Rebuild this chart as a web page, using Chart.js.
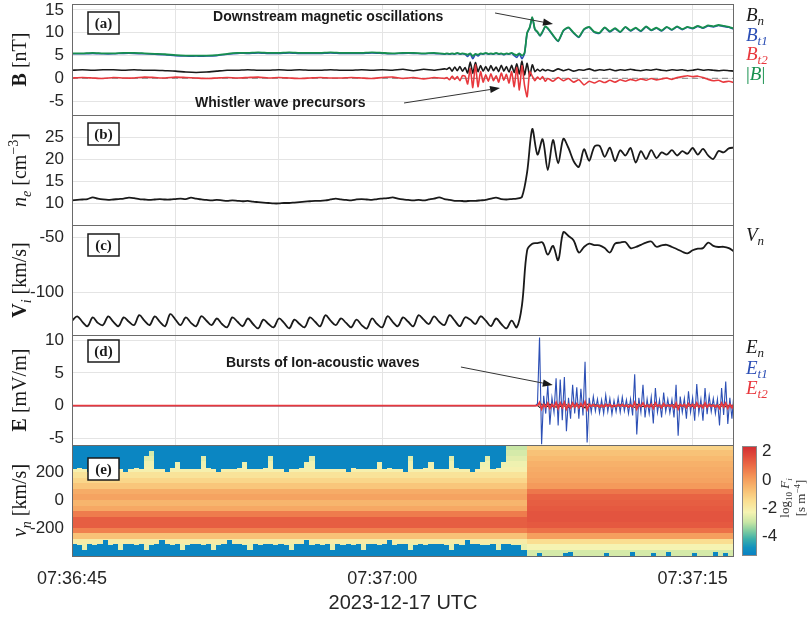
<!DOCTYPE html>
<html lang="en">
<head>
<meta charset="utf-8">
<title>Shock crossing 2023-12-17</title>
<script src="https://cdn.jsdelivr.net/npm/chart.js@4.4.1/dist/chart.umd.min.js"></script>
<style>
  html, body { margin: 0; padding: 0; background: #ffffff; }
  #figure { position: relative; width: 809px; height: 619px; overflow: hidden; }
  #figure canvas { position: absolute; left: 0; top: 0; }
</style>
</head>
<body>
<div id="figure">
  <canvas id="specChart" width="809" height="619"></canvas>
  <canvas id="cbarChart" width="809" height="619"></canvas>
  <canvas id="bChart" width="809" height="619"></canvas>
  <canvas id="neChart" width="809" height="619"></canvas>
  <canvas id="viChart" width="809" height="619"></canvas>
  <canvas id="eChart" width="809" height="619"></canvas>
</div>
<script>
// ================= Data =================
// time axis: seconds after 07:36:45 UTC
const timeOrigin = '07:36:45';
const tMin = 0, tMax = 32;
const timeTicks = [0, 5, 10, 15, 20, 25, 30];
const timeLabelEvery = 15;

// sample grid helper (times only, values are typed below)
const sampleTimes = (from, to, dt) => {
    const n = Math.round((to - from) / dt);
    return Array.from({ length: n + 1 }, (_, i) => +(from + i * dt).toFixed(3));
};

// (a) magnetic field [nT]
const bTime = [...sampleTimes(0, 18, 0.5), ...sampleTimes(18.125, 23, 0.125), ...sampleTimes(23.25, 32, 0.25)];
const bN = [
    1.8,1.9,1.8,1.9,1.9,1.8,1.9,1.8,1.8,1.7,1.6,1.4,1.3,1.4,1.6,1.8,1.8,1.9,1.8,1.8,1.9,1.8,1.9,1.8,1.8,1.9,1.8,1.8,1.9,1.8,1.9,1.8,2.0,1.7,2.0,1.8,2.1,
    2.0,2.4,1.6,2.5,1.7,2.6,1.6,2.4,1.2,3.6,1.1,3.5,1.5,2.8,1.6,2.6,1.6,2.8,1.7,2.5,1.5,2.9,1.6,2.6,1.4,2.9,1.3,3.2,1.0,3.8,0.8,3.3,0.5,3.0,1.5,2.0,1.6,2.0,1.7,1.9,
    1.6,2.1,1.7,2.0,1.6,1.9,1.8,2.1,1.7,1.9,1.8,2.0,1.7,1.9,1.8,2.0,1.8,1.7,1.9,1.8,2.0,1.8,1.7,1.9,1.8,1.9,1.7,1.8,2.0,1.8,1.9,1.8,1.7,1.8,1.7,1.6
];
const bT1 = [
    5.4,5.4,5.5,5.4,5.4,5.5,5.5,5.4,5.3,5.2,5.0,4.9,4.9,4.9,5.0,5.3,5.5,5.5,5.6,5.5,5.5,5.6,5.5,5.5,5.5,5.6,5.5,5.5,5.5,5.6,5.5,5.4,5.5,5.5,5.4,5.5,5.3,
    5.4,5.3,5.4,5.3,5.5,5.3,5.4,5.3,4.8,5.4,4.3,5.3,4.9,5.4,5.3,5.5,5.3,5.4,5.3,5.5,5.3,5.4,5.2,5.4,5.3,5.5,5.0,4.6,5.4,4.3,5.5,9.9,11.1,13.3,10.7,10.1,9.3,10.2,11.3,10.9,
    9.4,8.1,10.4,11.1,9.9,9.0,10.7,11.2,10.1,9.9,11.1,10.2,10.9,10.1,11.2,10.4,11.0,10.3,11.3,10.5,11.0,10.4,11.2,10.6,11.3,10.7,11.2,10.9,11.4,11.0,11.5,11.3,11.6,11.4,11.2,10.8
];
const bT2 = [
    0.1,0.2,0.1,0.0,0.2,0.1,0.1,0.3,0.2,0.1,0.3,0.2,0.1,0.0,0.1,0.2,0.1,0.2,0.3,0.1,0.2,0.1,0.0,0.1,0.2,0.1,0.1,0.2,0.1,0.0,0.2,0.3,0.0,0.2,-0.1,0.2,0.0,
    0.2,-0.3,0.5,-0.2,0.4,-0.5,0.6,0.5,-1.2,2.2,-2.0,3.0,-1.8,1.5,-0.8,0.8,-0.6,1.0,-0.5,0.6,-0.8,1.2,-0.4,0.9,-1.0,1.5,-1.8,2.4,-2.5,2.8,-1.5,-4.0,1.5,0.5,-0.5,0.3,-0.2,0.4,-0.6,0.0,
    -0.6,0.2,-0.5,0.0,-0.8,-0.3,-1.4,-0.6,-1.0,-0.5,-0.9,-0.4,-0.8,-0.3,-0.6,-0.2,-0.5,-0.1,-0.4,0.0,-0.3,-0.1,0.1,-0.2,0.2,0.4,0.6,0.4,0.5,0.2,-0.2,-0.5,-0.4,-0.8,-0.6,-0.9
];
const bMag = [
    5.5,5.5,5.6,5.5,5.5,5.6,5.6,5.5,5.4,5.3,5.1,5.0,5.0,5.0,5.1,5.4,5.6,5.6,5.7,5.6,5.6,5.7,5.6,5.6,5.6,5.7,5.6,5.6,5.6,5.7,5.6,5.5,5.6,5.6,5.5,5.6,5.4,
    5.5,5.4,5.5,5.4,5.6,5.4,5.5,5.4,5.2,5.5,4.9,5.4,5.2,5.5,5.4,5.6,5.4,5.5,5.4,5.6,5.4,5.5,5.3,5.5,5.4,5.6,5.3,5.1,5.5,5.0,5.6,10.0,11.2,13.4,10.8,10.2,9.4,10.3,11.4,11.0,
    9.5,8.2,10.5,11.2,10.0,9.1,10.8,11.3,10.2,10.0,11.2,10.3,11.0,10.2,11.3,10.5,11.1,10.4,11.4,10.6,11.1,10.5,11.3,10.7,11.4,10.8,11.3,11.0,11.5,11.1,11.6,11.4,11.7,11.5,11.3,10.9
];
const bRange = [-8, 16.3];
const bTicks = [-5, 0, 5, 10, 15];

// (b) electron density [cm^-3], (c) ion velocity [km/s] on a 0.25 s grid
const plasmaTime = sampleTimes(0, 32, 0.25);
const ne = [
    10.6,10.7,10.8,10.9,11.3,11.0,10.8,10.7,10.8,10.9,11.0,11.2,11.1,
    10.9,10.8,10.7,10.8,10.9,10.8,10.8,10.9,11.0,10.9,11.2,11.0,
    10.8,10.7,10.6,10.7,10.6,10.5,10.6,10.5,10.4,10.5,10.3,10.2,
    10.1,10.0,9.9,9.9,10.0,10.0,10.1,10.2,10.3,10.4,10.5,10.5,
    10.6,10.8,11.0,10.8,10.7,10.6,10.8,10.9,10.8,10.7,10.9,11.0,
    11.1,11.3,11.0,10.8,10.7,10.6,10.7,10.6,10.8,11.0,11.3,10.9,
    10.7,10.5,10.5,10.4,10.5,10.5,10.6,10.7,11.0,11.2,10.9,10.8,10.9,11.0,11.4,
    17.0,
    26.8,21.0,24.5,17.5,24.3,19.0,24.6,22.5,19.5,18.2,22.2,19.6,22.8,23.0,20.5,22.6,19.5,22.0,20.8,22.5,
    19.2,21.8,20.0,22.0,20.2,21.5,21.0,22.0,20.8,21.8,21.2,22.5,21.0,22.3,20.8,20.0,21.8,21.5,22.4,22.6
];
const neRange = [5, 30];
const neTicks = [10, 15, 20, 25];

const vn = [
    -126,-122,-127,-131,-123,-128,-130,-122,-127,-131,-123,-127,-130,-121,-126,-130,-122,-127,-131,-120,-125,-130,
    -123,-128,-131,-122,-126,-130,-124,-129,-132,-123,-127,-131,-124,-129,-133,-125,-129,-132,-124,-128,-133,
    -125,-129,-132,-123,-127,-131,-121,-126,-130,-124,-128,-132,-125,-130,-133,-124,-129,-132,-122,-127,-131,
    -123,-127,-131,-121,-125,-129,-122,-127,-130,-121,-126,-131,-123,-125,-129,-122,-126,-131,-124,-129,-133,
    -126,-132,-112,
    -62,-56,-55.5,-55,-66,-58,-71,-45.5,-49,-53,-64,-59,-56,-57.3,-57.5,-60,-64,-56,-55,-54.5,
    -60,-59,-57,-55,-54,-58.8,-57.5,-57,-59,-61,-63.3,-64.8,-62,-60.5,-60,-55,-58,-59,-58.8,-60,-63
];
const viRange = [-139, -39];
const viTicks = [-100, -50];

// (d) electric field [mV/m]: quiet before the first burst, then 0.1 s samples
const eQuietTime = [0, 22.4];
const eQuiet = [0, 0];
const eTime = sampleTimes(22.5, 32, 0.1);
const eN = [
    0.1,-0.3,0.3,-0.1,0.2,-0.2,0.3,-0.2,0.1,-0.3,0.2,-0.2,0.3,-0.1,0.2,-0.3,0.1,-0.2,0.2,-0.1,
    0.2,-0.2,0.1,-0.4,0.3,-0.1,0.1,-0.1,0.2,-0.1,0.1,-0.2,0.1,-0.1,0.2,-0.1,0.1,-0.2,0.1,-0.1,
    0.2,-0.1,0.1,-0.1,0.2,-0.1,0.1,-0.3,0.3,-0.1,0.1,-0.2,0.1,-0.1,0.2,-0.2,0.2,-0.1,0.1,-0.2,
    0.1,-0.1,0.1,-0.1,0.2,-0.1,0.2,-0.3,0.1,-0.1,0.1,-0.2,0.1,-0.1,0.2,-0.2,0.2,-0.1,0.1,-0.2,
    0.2,-0.1,0.1,-0.1,0.2,-0.1,0.1,-0.2,0.2,-0.1,0.2,-0.2,0.1,-0.1,0.1,-0.2
];
const eT1 = [
    0.3,10.4,-5.9,1.5,-1.2,3.2,-2.9,1.2,-1.0,4.2,
    -3.0,4.0,-2.2,4.4,-3.9,1.2,-2.0,3.2,-1.2,2.8,
    -2.0,2.6,-1.5,6.7,-5.6,1.2,-1.0,1.4,-0.8,1.0,
    -1.1,0.9,-1.2,1.6,-0.9,1.1,-1.3,0.8,-0.9,1.2,
    -1.0,1.3,-0.8,0.9,-1.2,1.0,-1.5,4.8,-4.4,1.2,
    -1.0,3.2,-1.8,1.0,-1.2,1.3,-2.7,2.7,-1.0,0.9,
    -1.8,2.0,-0.9,1.0,-1.1,0.9,-1.8,3.2,-4.6,1.4,
    -1.0,1.1,-2.0,2.2,-1.0,1.2,-2.3,3.3,-1.1,1.0,
    -2.3,2.7,-1.3,1.5,-0.9,1.1,-1.2,1.0,-3.0,2.7,
    -1.4,3.7,-2.8,1.2,-2.0,2.0
];
const eT2 = [
    0.0,0.5,-0.5,0.2,-0.2,0.4,-0.4,0.2,-0.2,0.5,
    -0.4,0.4,-0.3,0.5,-0.5,0.2,-0.3,0.4,-0.2,0.3,
    -0.3,0.3,-0.2,0.6,-0.6,0.2,-0.1,0.2,-0.1,0.1,
    -0.2,0.1,-0.2,0.2,-0.1,0.2,-0.2,0.1,-0.1,0.2,
    -0.1,0.2,-0.1,0.1,-0.2,0.1,-0.2,0.5,-0.5,0.2,
    -0.1,0.4,-0.2,0.1,-0.2,0.2,-0.4,0.4,-0.1,0.1,
    -0.3,0.3,-0.1,0.1,-0.1,0.1,-0.3,0.4,-0.5,0.2,
    -0.1,0.2,-0.3,0.3,-0.1,0.2,-0.3,0.4,-0.2,0.1,
    -0.3,0.4,-0.2,0.2,-0.1,0.1,-0.2,0.1,-0.4,0.4,
    -0.2,0.4,-0.4,0.2,-0.3,0.3
];
const eRange = [-6, 10.8];
const eTicks = [-5, 0, 5, 10];

// (e) ion distribution log10 F_i vs v_n: 0.25 s columns, 40 km/s rows (top to bottom)
const specStep = 0.25;
const specCols = 128;
const specShock = 22.0;
const specV = [380, 340, 300, 260, 220, 180, 140, 100, 60, 20, -20, -60, -100, -140, -180, -220, -260, -300, -340, -380];
const specBin = 40;
const specPre = [-3.0,-2.8,-2.6,-2.4,-2.2,-1.7,-1.3,-0.9,-0.3,-0.1,-0.5,-0.2,0.7,1.3,1.3,0.6,-0.8,-2.0,-2.5,-2.9];
const specPost = [-1.2,-0.8,-0.6,-0.4,-0.3,-0.2,-0.1,0.1,0.8,1.2,1.3,1.4,1.5,1.5,1.4,0.9,0.0,-1.5,-2.3,-2.8];
const specEmpty = -5.2;
// lowest / highest velocity with counts in each column [km/s]
const specTopEdge = [
    228,232,225,205,230,226,275,232,224,230, 205,228,234,226,320,355,230,226,205,232,
    275,228,224,230,226,320,232,228,205,226, 230,224,232,275,228,230,226,232,320,228,
    226,205,230,228,232,275,320,226,230,224, 230,228,226,205,232,228,224,230,226,275,
    228,232,226,230,205,320,228,224,232,275, 226,230,228,320,232,226,228,205,230,275,
    320,228,232,275
];
const specBottomEdge = [
    -312,-318,-355,-310,-320,-315,-285,-318,-312,-355, -316,-310,-320,-314,-355,-318,-312,-285,-316,-320,
    -314,-355,-318,-312,-316,-320,-310,-355,-318,-314, -285,-316,-312,-320,-355,-314,-318,-310,-316,-320,
    -312,-318,-355,-316,-310,-285,-320,-314,-318,-312, -355,-316,-320,-312,-318,-314,-355,-310,-316,-320,
    -314,-285,-318,-312,-316,-355,-320,-314,-318,-310, -316,-312,-320,-355,-314,-318,-285,-316,-312,-320,
    -318,-314,-355,-316,-312,-320,-318,-355,
    -400,-400,-375,-400,-400,-400,-400,-378,-372,-400, -400,-400,-400,-400,-400,-375,-400,-400,-400,-400,
    -372,-400,-400,-400,-376,-400,-400,-374,-400,-400, -400,-400,-375,-400,-400,-400,-373,-400,-376,-400
];
const vnRange = [-400, 400];
const vnTicks = [-200, 0, 200];
const cbarRange = [-5.4, 2.4];
const cbarTicks = [-4, -2, 0, 2];

// colour scale for log10 F_i
const cmapStops = [
    [-5.4, [8, 128, 196]], [-4.8, [18, 146, 190]], [-4.2, [60, 175, 170]], [-3.6, [130, 205, 160]],
    [-3.0, [200, 230, 165]], [-2.3, [245, 243, 178]], [-1.5, [250, 222, 145]], [-0.7, [248, 190, 115]],
    [0.2, [244, 150, 88]], [1.0, [235, 108, 70]], [1.8, [222, 70, 58]], [2.4, [210, 45, 50]]
];

// ================= Layout / style =================
const W = 809, H = 619;
const plotLeft = 72, plotRight = 734;
const panelBox = {
    a: { top: 4, bottom: 115 },
    b: { top: 115, bottom: 225 },
    c: { top: 225, bottom: 335 },
    d: { top: 335, bottom: 445 },
    e: { top: 445, bottom: 556 }
};
const SANS = '"Liberation Sans", Arial, Helvetica, sans-serif';
const SERIF = '"Liberation Serif", "DejaVu Serif", "Times New Roman", serif';
const gridColor = '#e4e4e4';
const tickColor = '#262626';
const C = { black: '#1a1a1a', blue: '#2c4fb5', red: '#e8383d', green: '#17904e', dash: '#9a9a9a' };

Chart.defaults.font.family = SANS;

const toPoints = (xs, ys) => ys.map((y, i) => ({ x: xs[i], y }));

const clock = t => {
    const [h, m, s] = timeOrigin.split(':').map(Number);
    const tot = h * 3600 + m * 60 + s + t;
    const pad = n => String(n).padStart(2, '0');
    return `${pad(Math.floor(tot / 3600))}:${pad(Math.floor((tot % 3600) / 60))}:${pad(tot % 60)}`;
};

const colorFor = v => {
    if (v <= cmapStops[0][0]) return `rgb(${cmapStops[0][1].join(',')})`;
    for (let i = 1; i < cmapStops.length; i++) {
        const [v1, c1] = cmapStops[i];
        if (v <= v1) {
            const [v0, c0] = cmapStops[i - 1];
            const f = (v - v0) / (v1 - v0);
            const c = c0.map((ch, k) => Math.round(ch + (c1[k] - ch) * f));
            return `rgb(${c.join(',')})`;
        }
    }
    return `rgb(${cmapStops[cmapStops.length - 1][1].join(',')})`;
};

// scales keep their half-label padding otherwise, which would push panel (a) down
const noScalePadding = s => {
    s.paddingTop = 0;
    s.paddingBottom = 0;
    s.paddingLeft = 0;
    s.paddingRight = 0;
};

// --- text with sub/superscripts; parts = [{t, f, dy}] ---
const drawRich = (ctx, parts, x, y, rotated, color, base) => {
    ctx.save();
    ctx.translate(x, y);
    if (rotated) ctx.rotate(-Math.PI / 2);
    ctx.fillStyle = color || C.black;
    ctx.textBaseline = 'alphabetic';
    ctx.textAlign = 'left';
    let w = 0;
    parts.forEach(p => { ctx.font = p.f; w += ctx.measureText(p.t).width; });
    let cx = rotated ? -w / 2 : 0;
    parts.forEach(p => {
        ctx.font = p.f;
        ctx.fillText(p.t, cx, base + (p.dy || 0));
        cx += ctx.measureText(p.t).width;
    });
    ctx.restore();
};

const drawArrow = (ctx, x0, y0, x1, y1) => {
    const ang = Math.atan2(y1 - y0, x1 - x0);
    const len = 10, half = 3.6;
    ctx.strokeStyle = '#333';
    ctx.fillStyle = '#1a1a1a';
    ctx.lineWidth = 1;
    ctx.beginPath();
    ctx.moveTo(x0, y0);
    ctx.lineTo(x1 - len * Math.cos(ang), y1 - len * Math.sin(ang));
    ctx.stroke();
    ctx.beginPath();
    ctx.moveTo(x1, y1);
    ctx.lineTo(x1 - len * Math.cos(ang) + half * Math.sin(ang), y1 - len * Math.sin(ang) - half * Math.cos(ang));
    ctx.lineTo(x1 - len * Math.cos(ang) - half * Math.sin(ang), y1 - len * Math.sin(ang) + half * Math.cos(ang));
    ctx.closePath();
    ctx.fill();
};

// --- frame, panel tag, axis title, line labels and notes ---
const panelDeco = {
    id: 'panelDeco',
    afterDraw(chart, args, opts) {
        const { ctx, chartArea: a, scales } = chart;
        ctx.save();
        ctx.strokeStyle = '#6a6a6a';
        ctx.lineWidth = 1;
        ctx.strokeRect(a.left + 0.5, a.top + 0.5, a.right - a.left - 1, a.bottom - a.top);

        if (opts.tag) {
            const bx = a.left + 16, by = a.top + opts.tagDy;
            ctx.fillStyle = '#fff';
            ctx.fillRect(bx, by, 31, 22);
            ctx.strokeStyle = '#1a1a1a';
            ctx.lineWidth = 1.5;
            ctx.strokeRect(bx, by, 31, 22);
            ctx.fillStyle = C.black;
            ctx.font = `bold 15px ${SERIF}`;
            ctx.textAlign = 'center';
            ctx.textBaseline = 'middle';
            ctx.fillText(opts.tag, bx + 15.5, by + 12);
        }
        if (opts.yTitle) drawRich(ctx, opts.yTitle, 19, (a.top + a.bottom) / 2, true, C.black, 7);
        (opts.labels || []).forEach(l => drawRich(ctx, l.parts, 746, a.top + l.dy, false, l.color, 6));
        (opts.notes || []).forEach(n => {
            const x = scales.x, y = scales.y;
            ctx.fillStyle = C.black;
            ctx.font = `bold 14px ${SANS}`;
            ctx.textAlign = 'left';
            ctx.textBaseline = 'middle';
            ctx.fillText(n.text, x.getPixelForValue(n.at[0]), y.getPixelForValue(n.at[1]));
            drawArrow(ctx, x.getPixelForValue(n.from[0]), y.getPixelForValue(n.from[1]),
                x.getPixelForValue(n.to[0]), y.getPixelForValue(n.to[1]));
        });
        if (opts.xTitle) {
            ctx.fillStyle = tickColor;
            ctx.font = `20px ${SANS}`;
            ctx.textAlign = 'center';
            ctx.textBaseline = 'middle';
            ctx.fillText(opts.xTitle, (a.left + a.right) / 2, 603);
        }
        ctx.restore();
    }
};

// --- spectrogram cells, then the empty (no counts) ends of each column ---
const spectrogramLayer = {
    id: 'spectrogramLayer',
    beforeDatasetsDraw(chart) {
        const { ctx, chartArea: a, scales: { x, y } } = chart;
        ctx.save();
        ctx.beginPath();
        ctx.rect(a.left, a.top, a.right - a.left, a.bottom - a.top);
        ctx.clip();
        const emptyColor = colorFor(specEmpty);
        for (let c = 0; c < specCols; c++) {
            const t0 = c * specStep;
            const profile = t0 >= specShock ? specPost : specPre;
            const x0 = Math.floor(x.getPixelForValue(t0));
            const x1 = Math.ceil(x.getPixelForValue(t0 + specStep));
            specV.forEach((v, r) => {
                const y0 = Math.floor(y.getPixelForValue(v + specBin / 2));
                const y1 = Math.ceil(y.getPixelForValue(v - specBin / 2));
                ctx.fillStyle = colorFor(profile[r]);
                ctx.fillRect(x0, y0, x1 - x0, y1 - y0);
            });
            ctx.fillStyle = emptyColor;
            if (specTopEdge[c] !== undefined) {
                const ye = Math.round(y.getPixelForValue(specTopEdge[c]));
                ctx.fillRect(x0, a.top, x1 - x0, ye - a.top);
            }
            if (specBottomEdge[c] !== undefined && specBottomEdge[c] > vnRange[0]) {
                const ye = Math.round(y.getPixelForValue(specBottomEdge[c]));
                ctx.fillRect(x0, ye, x1 - x0, a.bottom - ye);
            }
        }
        ctx.restore();
    }
};

const colorbarLayer = {
    id: 'colorbarLayer',
    beforeDatasetsDraw(chart) {
        const { ctx, chartArea: a, scales: { y } } = chart;
        ctx.save();
        for (let py = Math.floor(a.top); py < a.bottom; py++) {
            ctx.fillStyle = colorFor(y.getValueForPixel(py + 0.5));
            ctx.fillRect(a.left, py, a.right - a.left, 1);
        }
        ctx.strokeStyle = '#8a8a8a';
        ctx.lineWidth = 1;
        ctx.strokeRect(a.left + 0.5, a.top + 0.5, a.right - a.left - 1, a.bottom - a.top - 1);
        const s13 = `13px ${SERIF}`, s9 = `9px ${SERIF}`;
        drawRich(ctx, [
            { t: 'log', f: s13 }, { t: '10', f: s9, dy: 3 }, { t: ' F', f: `italic ${s13}` }, { t: 'i', f: `italic ${s9}`, dy: 3 }
        ], 785, (a.top + a.bottom) / 2 - 3, true, '#333', 4);
        drawRich(ctx, [
            { t: '[s m', f: s13 }, { t: '\u22124', f: s9, dy: -5 }, { t: ']', f: s13 }
        ], 801, (a.top + a.bottom) / 2 - 3, true, '#333', 4);
        ctx.restore();
    }
};

// ================= Chart setup =================
document.addEventListener('DOMContentLoaded', () => {

    const makePanel = (id, box, range, ticks, datasets, deco, withTimeLabels, extraPlugins) => {
        const xHeight = withTimeLabels ? H - box.bottom : 0;
        return new Chart(document.getElementById(id).getContext('2d'), {
            type: 'line',
            data: { datasets },
            options: {
                responsive: false,
                animation: false,
                devicePixelRatio: 1,
                layout: {
                    autoPadding: false,
                    padding: { left: 0, right: W - plotRight, top: box.top, bottom: H - box.bottom - xHeight }
                },
                plugins: { legend: { display: false }, tooltip: { enabled: false }, panelDeco: deco },
                scales: {
                    x: {
                        type: 'linear',
                        min: tMin,
                        max: tMax,
                        afterBuildTicks: s => { s.ticks = timeTicks.map(v => ({ value: v })); },
                        afterFit: s => { s.height = xHeight; noScalePadding(s); },
                        grid: { color: gridColor, drawTicks: false },
                        border: { display: false },
                        ticks: {
                            display: withTimeLabels,
                            autoSkip: false,
                            maxRotation: 0,
                            padding: 12,
                            color: tickColor,
                            font: { size: 18 },
                            callback: v => (v % timeLabelEvery === 0 ? clock(v) : '')
                        }
                    },
                    y: {
                        min: range[0],
                        max: range[1],
                        afterBuildTicks: s => { s.ticks = ticks.map(v => ({ value: v })); },
                        afterFit: s => { s.width = plotLeft; noScalePadding(s); },
                        grid: { color: gridColor, drawTicks: false },
                        border: { display: false },
                        ticks: { padding: 8, color: tickColor, font: { size: 17 } }
                    }
                }
            },
            plugins: [panelDeco, ...(extraPlugins || [])]
        });
    };

    const line = (xs, ys, color, width, tension) => ({
        data: toPoints(xs, ys),
        borderColor: color,
        borderWidth: width,
        pointRadius: 0,
        tension: tension,
        fill: false
    });

    const S = (size, style) => `${style || ''} ${size}px ${SERIF}`.trim();

    // 1. magnetic field
    makePanel('bChart', panelBox.a, bRange, bTicks, [
        line(bTime, bMag, C.green, 1.8, 0.2),
        line(bTime, bT2, C.red, 1.6, 0.2),
        line(bTime, bT1, C.blue, 1.6, 0.2),
        line(bTime, bN, C.black, 1.6, 0.2),
        Object.assign(line([tMin, tMax], [0, 0], C.dash, 1.2, 0), { borderDash: [6, 4] })
    ], {
        tag: '(a)', tagDy: 8,
        yTitle: [{ t: 'B', f: S(20, 'bold') }, { t: ' [nT]', f: S(20) }],
        labels: [
            { dy: 11, color: C.black, parts: [{ t: 'B', f: S(19, 'italic') }, { t: 'n', f: S(13, 'italic'), dy: 4 }] },
            { dy: 31, color: C.blue, parts: [{ t: 'B', f: S(19, 'italic') }, { t: 't1', f: S(13, 'italic'), dy: 4 }] },
            { dy: 50, color: C.red, parts: [{ t: 'B', f: S(19, 'italic') }, { t: 't2', f: S(13, 'italic'), dy: 4 }] },
            { dy: 70, color: C.green, parts: [{ t: '|', f: S(19) }, { t: 'B', f: S(19, 'italic') }, { t: '|', f: S(19) }] }
        ],
        notes: [
            { text: 'Downstream magnetic oscillations', at: [6.82, 13.45], from: [20.45, 14.33], to: [23.25, 11.92] },
            { text: 'Whistler wave precursors', at: [5.95, -5.37], from: [16.05, -5.37], to: [20.69, -2.09] }
        ]
    }, false);

    // 2. electron density
    makePanel('neChart', panelBox.b, neRange, neTicks, [
        line(plasmaTime, ne, C.black, 1.8, 0.3)
    ], {
        tag: '(b)', tagDy: 8,
        yTitle: [
            { t: 'n', f: S(20, 'italic') }, { t: 'e', f: S(14, 'italic'), dy: 5 },
            { t: ' [cm', f: S(20) }, { t: '\u22123', f: S(14), dy: -8 }, { t: ']', f: S(20) }
        ]
    }, false);

    // 3. ion velocity
    makePanel('viChart', panelBox.c, viRange, viTicks, [
        line(plasmaTime, vn, C.black, 1.8, 0.35)
    ], {
        tag: '(c)', tagDy: 9,
        yTitle: [{ t: 'V', f: S(20, 'bold') }, { t: 'i', f: S(14, 'italic'), dy: 5 }, { t: ' [km/s]', f: S(20) }],
        labels: [{ dy: 10, color: C.black, parts: [{ t: 'V', f: S(19, 'italic') }, { t: 'n', f: S(13, 'italic'), dy: 4 }] }]
    }, false);

    // 4. electric field
    const eSeries = vals => [...toPoints(eQuietTime, eQuiet), ...toPoints(eTime, vals)];
    const eLine = (vals, color, width) => ({ data: eSeries(vals), borderColor: color, borderWidth: width, pointRadius: 0, tension: 0, fill: false });
    makePanel('eChart', panelBox.d, eRange, eTicks, [
        eLine(eT2, C.red, 1.8),
        eLine(eT1, C.blue, 1.1),
        eLine(eN, C.black, 1.0)
    ], {
        tag: '(d)', tagDy: 5,
        yTitle: [{ t: 'E', f: S(20, 'bold') }, { t: ' [mV/m]', f: S(20) }],
        labels: [
            { dy: 12, color: C.black, parts: [{ t: 'E', f: S(19, 'italic') }, { t: 'n', f: S(13, 'italic'), dy: 4 }] },
            { dy: 33, color: C.blue, parts: [{ t: 'E', f: S(19, 'italic') }, { t: 't1', f: S(13, 'italic'), dy: 4 }] },
            { dy: 53, color: C.red, parts: [{ t: 'E', f: S(19, 'italic') }, { t: 't2', f: S(13, 'italic'), dy: 4 }] }
        ],
        notes: [
            { text: 'Bursts of Ion-acoustic waves', at: [7.44, 6.52], from: [18.80, 5.91], to: [23.24, 3.16] }
        ]
    }, false);

    // 5. ion velocity distribution
    makePanel('specChart', panelBox.e, vnRange, vnTicks, [], {
        tag: '(e)', tagDy: 13,
        yTitle: [{ t: 'v', f: S(20, 'italic') }, { t: 'n', f: S(14, 'italic'), dy: 5 }, { t: ' [km/s]', f: S(20) }],
        xTitle: '2023-12-17 UTC'
    }, true, [spectrogramLayer]);

    // colour bar
    new Chart(document.getElementById('cbarChart').getContext('2d'), {
        type: 'line',
        data: { datasets: [] },
        options: {
            responsive: false,
            animation: false,
            devicePixelRatio: 1,
            layout: { autoPadding: false, padding: { left: 742, right: 0, top: panelBox.e.top + 1, bottom: H - panelBox.e.bottom } },
            plugins: { legend: { display: false }, tooltip: { enabled: false } },
            scales: {
                x: { display: false, min: 0, max: 1 },
                y: {
                    position: 'right',
                    min: cbarRange[0],
                    max: cbarRange[1],
                    afterBuildTicks: s => { s.ticks = cbarTicks.map(v => ({ value: v })); },
                    afterFit: s => { s.width = W - 757; noScalePadding(s); },
                    grid: { display: false, drawTicks: false },
                    border: { display: false },
                    ticks: { padding: 5, color: tickColor, font: { size: 17 } }
                }
            }
        },
        plugins: [colorbarLayer]
    });
});
</script>
</body>
</html>
